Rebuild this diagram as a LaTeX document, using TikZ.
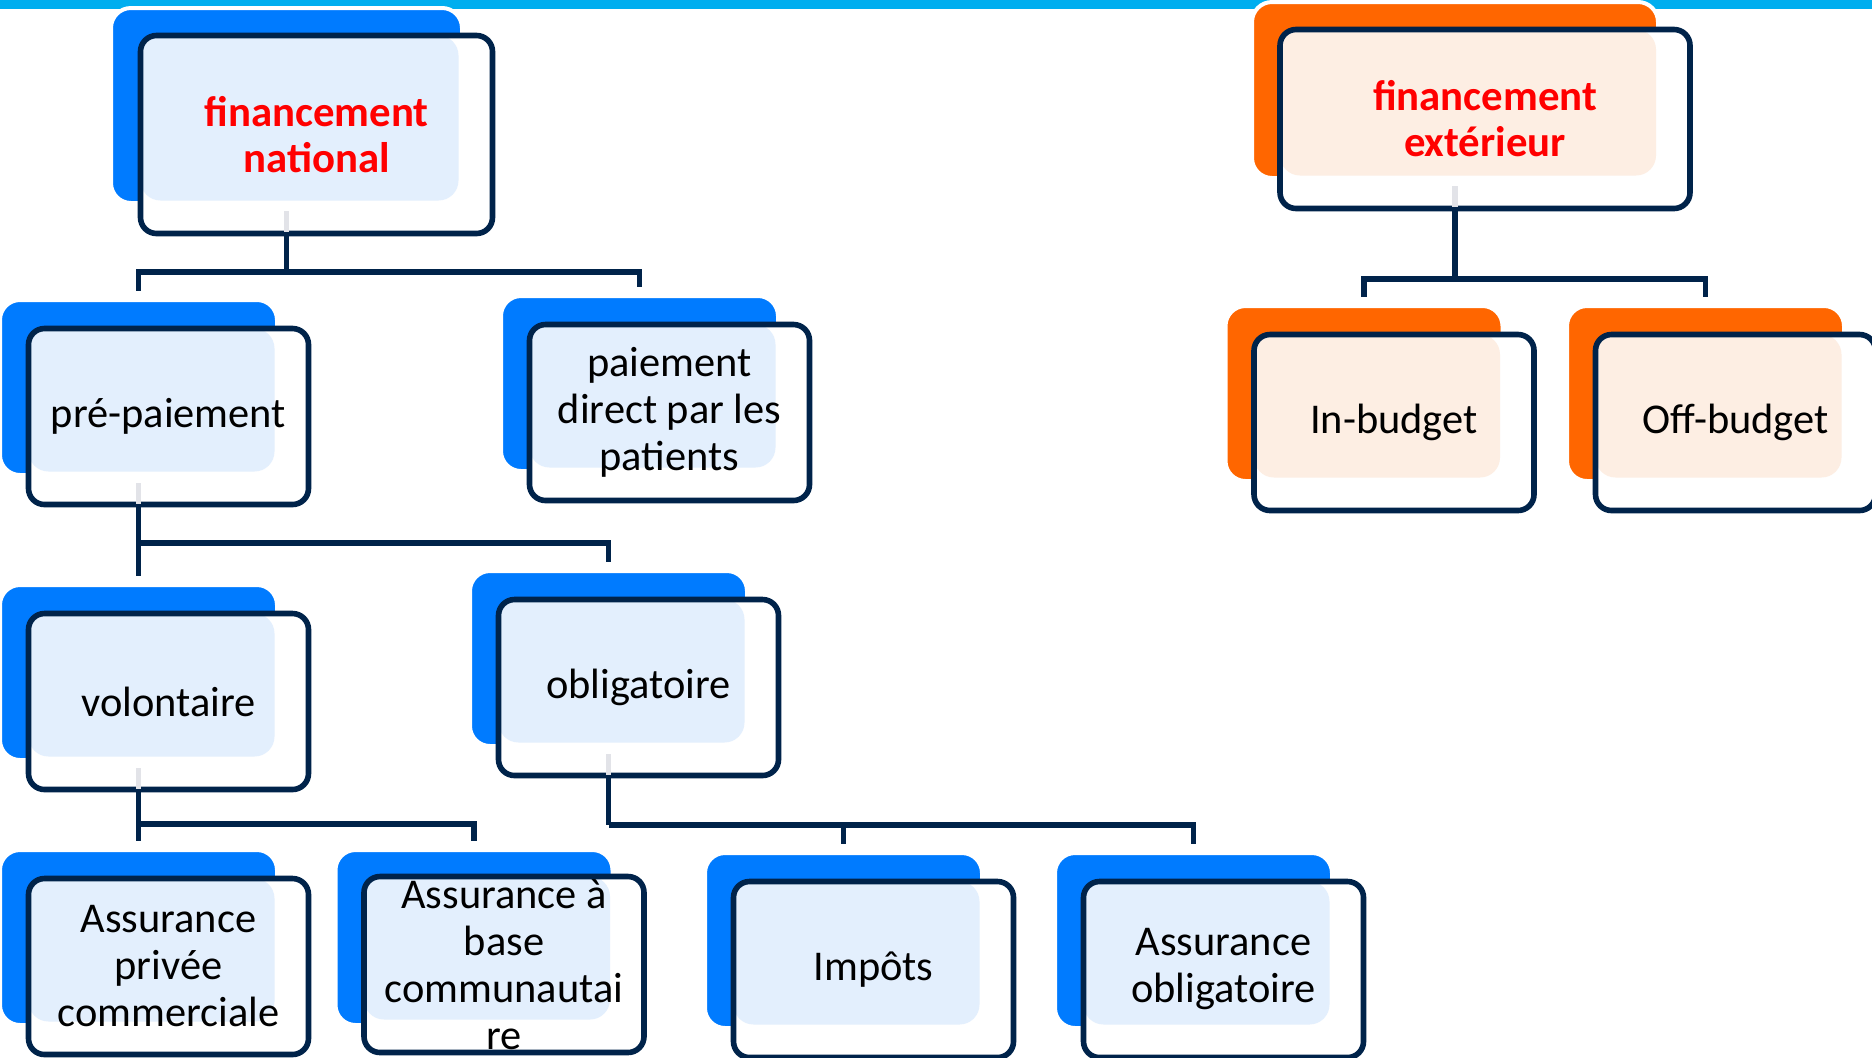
\documentclass[tikz,border=0pt]{standalone}
\usepackage{fontspec}
\setmainfont{Carlito}

\definecolor{barcyan}{HTML}{00AEEF}
\definecolor{tileblue}{HTML}{007BFF}
\definecolor{paleblue}{HTML}{E3EFFD}
\definecolor{tileorange}{HTML}{FF6600}
\definecolor{paleorange}{HTML}{FDEEE3}
\definecolor{navy}{HTML}{00234A}
\definecolor{stubgray}{HTML}{E2E3E8}
\definecolor{titlered}{HTML}{FF0000}

\begin{document}
\begin{tikzpicture}[x=0.5pt,y=-0.5pt,
    tile/.style={fill=#1,draw=white,line width=2pt,rounded corners=10pt,
        minimum width=138.5pt,minimum height=87.5pt,inner sep=0pt},
    card/.style={fill=white,draw=navy,line width=2.8pt,rounded corners=8pt,
        minimum width=140pt,minimum height=88pt,inner sep=0pt,align=center,
        font={\fontsize{21.2}{23.5}\selectfont},
        path picture={\fill[#1,rounded corners=10pt]
            (path picture bounding box.north west) rectangle
            ([shift={(-34,-33)}]path picture bounding box.south east);}},
    title/.style={text=titlered,font={\fontsize{21.4}{23}\selectfont\bfseries}},
    link/.style={navy,line width=2.8pt},
    stub/.style={stubgray,line width=2.8pt}]

    \useasboundingbox (0,0) rectangle (1872,1057);
    \fill[barcyan] (0,0) rectangle (1872,9);

    \node[tile=tileblue,minimum width=175.5pt,minimum height=97.5pt] (nat) at (286.5,105.5) {};
    \node[card=paleblue,minimum width=176pt,minimum height=99pt,title] (natC) at ([shift={(30,29)}]nat.center) {financement\\national};

    \node[tile=tileblue] (pre) at (138.5,387.5) {};
    \node[card=paleblue] (preC) at ([shift={(30,29)}]pre.center) {pré-paiement};
    \node[tile=tileblue] (dir) at (639.5,383.5) {};
    \node[card=paleblue] (dirC) at ([shift={(30,29)}]dir.center) {paiement\\direct par les\\patients};

    \node[tile=tileblue] (vol) at (138.5,672.5) {};
    \node[card=paleblue] (volC) at ([shift={(30,29)}]vol.center) {volontaire};
    \node[tile=tileblue] (obl) at (608.5,658.5) {};
    \node[card=paleblue] (oblC) at ([shift={(30,29)}]obl.center) {obligatoire};

    \node[tile=tileblue] (apc) at (138.5,937.5) {};
    \node[card=paleblue] (apcC) at ([shift={(30,29)}]apc.center) {Assurance\\privée\\commerciale};
    \node[tile=tileblue] (abc) at (474,937.5) {};
    \node[card=paleblue] (abcC) at ([shift={(30,27)}]abc.center) {Assurance à\\base\\communautai\\re};
    \node[tile=tileblue] (imp) at (843.5,940.5) {};
    \node[card=paleblue] (impC) at ([shift={(30,29)}]imp.center) {Impôts};
    \node[tile=tileblue] (aob) at (1193.5,940.5) {};
    \node[card=paleblue] (aobC) at ([shift={(30,29)}]aob.center) {Assurance\\obligatoire};

    \node[tile=tileorange,minimum width=203pt,minimum height=88pt] (ext) at (1455,90) {};
    \node[card=paleorange,minimum width=205pt,minimum height=89.5pt,title] (extC) at ([shift={(30,29)}]ext.center) {financement\\extérieur};
    \node[tile=tileorange] (inb) at (1364,393.5) {};
    \node[card=paleorange] (inbC) at ([shift={(30,29)}]inb.center) {In-budget};
    \node[tile=tileorange] (ofb) at (1705.5,393.5) {};
    \node[card=paleorange] (ofbC) at ([shift={(30,29)}]ofb.center) {Off-budget};

    \coordinate (busN) at (286.5,272);
    \coordinate (busP) at (138.5,543);
    \coordinate (busV) at (138.5,824);
    \coordinate (busO) at (608.5,825);
    \coordinate (busE) at (1455,279);

    \draw[stub] ([shift={(0,6)}]nat.south) -- ++(0,21);
    \draw[link] (nat.south |- natC.south) -- (busN);
    \draw[link] (busN) -| ([shift={(0,-7)}]pre.north);
    \draw[link] (busN) -| ([shift={(0,-7)}]dir.north);

    \draw[stub] ([shift={(0,6)}]pre.south) -- ++(0,21);
    \draw[link] (pre.south |- preC.south) -- (busP);
    \draw[link] (busP) -| ([shift={(0,-7)}]vol.north);
    \draw[link] (busP) -| ([shift={(0,-7)}]obl.north);

    \draw[stub] ([shift={(0,6)}]vol.south) -- ++(0,21);
    \draw[link] (vol.south |- volC.south) -- (busV);
    \draw[link] (busV) -| ([shift={(0,-7)}]apc.north);
    \draw[link] (busV) -| ([shift={(0,-7)}]abc.north);

    \draw[stub] ([shift={(0,6)}]obl.south) -- ++(0,21);
    \draw[link] (obl.south |- oblC.south) -- (busO);
    \draw[link] (busO) -| ([shift={(0,-7)}]imp.north);
    \draw[link] (busO) -| ([shift={(0,-7)}]aob.north);

    \draw[stub] ([shift={(0,6)}]ext.south) -- ++(0,21);
    \draw[link] (ext.south |- extC.south) -- (busE);
    \draw[link] (busE) -| ([shift={(0,-7)}]inb.north);
    \draw[link] (busE) -| ([shift={(0,-7)}]ofb.north);

\end{tikzpicture}
\end{document}
